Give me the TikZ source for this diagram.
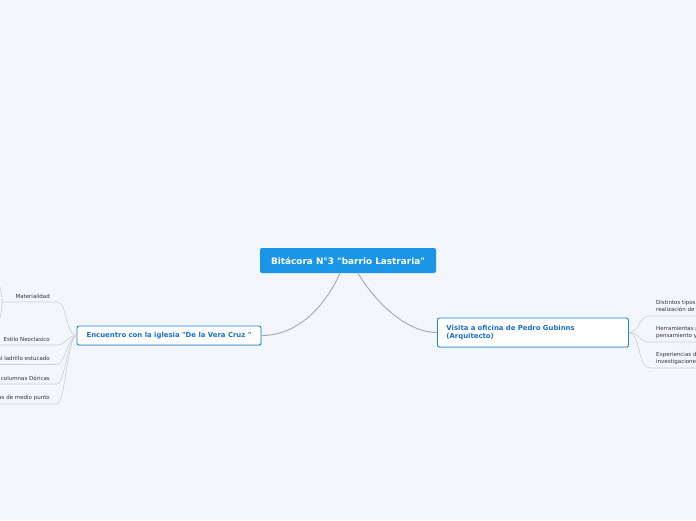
\documentclass[tikz,border=0pt]{standalone}
\usepackage{fontspec}
\setmainfont{DejaVu Sans}[Ligatures=TeXOff]
\usetikzlibrary{shadows}
\definecolor{bg}{HTML}{F3F6FD}
\definecolor{cblue}{HTML}{1B95E5}
\definecolor{tblue}{HTML}{1C86E0}
\definecolor{ttext}{HTML}{1A6FD0}
\definecolor{mgray}{HTML}{A4A6B2}
\definecolor{sgray}{HTML}{CDCFD8}
\definecolor{subtext}{HTML}{333333}
\tikzset{
  central/.style={fill=cblue, text=white, font=\bfseries\fontsize{8.9}{10}\selectfont,
    rounded corners=2pt, minimum width=176pt, minimum height=25pt, inner sep=0pt},
  topic/.style={draw=tblue, line width=0.9pt, fill=white, text=ttext,
    font=\bfseries\fontsize{6.9}{8.2}\selectfont, rounded corners=2pt,
    drop shadow={opacity=0.25, shadow xshift=0.6pt, shadow yshift=-1pt}},
  sublabel/.style={font=\fontsize{5.5}{7}\selectfont, text=subtext, inner sep=0pt, align=left},
  mainline/.style={draw=mgray, line width=0.9pt},
  subline/.style={draw=sgray, line width=0.6pt},
}
\begin{document}
\begin{tikzpicture}[x=1pt,y=-1pt]
\fill[bg] (0,0) rectangle (696,520);
\useasboundingbox (0,0) rectangle (696,520);
\clip (0,0) rectangle (696,520);

% main nodes
\node[central] (C) at (348,260.5) {Bitácora N°3 "barrio Lastraria"};
\node[topic, minimum width=184pt, minimum height=19pt, inner sep=0pt] (L) at (169,335.5)
  {Encuentro con la iglesia "De la Vera Cruz "};
\node[topic, anchor=west, text width=173pt, inner xsep=9pt, inner ysep=0pt, minimum height=29pt, align=left]
  (R) at (437,332.5) {Visita a oficina de Pedro Gubinns\\(Arquitecto)};

\draw[mainline] ([xshift=-8pt]C.south) .. controls (328,300) and (302,335.5) .. (L.east);
\draw[mainline] ([xshift=10pt]C.south) .. controls (374,300) and (405,332.5) .. (R.west);

% left sub topics
\node[sublabel, anchor=east] (s1) at (50,296) {Materialidad};
\node[sublabel, anchor=east] (s2) at (50,339) {Estilo Neoclasico};
\node[sublabel, anchor=east] (s3) at (50,358.5) {al ladrillo estucado};
\node[sublabel, anchor=east] (s4) at (50,378.5) {columnas Dóricas};
\node[sublabel, anchor=east] (s5) at (50,398) {as de medio punto};

\coordinate (e1) at (57,302);  \coordinate (b1) at (3,302);
\coordinate (e2) at (57,345);  \coordinate (b2) at (-2,345);
\coordinate (e3) at (57,364.5);\coordinate (b3) at (-2,364.5);
\coordinate (e4) at (57,384);  \coordinate (b4) at (-2,384);
\coordinate (e5) at (57,404);  \coordinate (b5) at (-2,404);

\draw[subline] (L.west) .. controls (66,335.5) and (67,302) .. (e1) -- (b1);
\draw[subline] (L.west) .. controls (67,335.5) and (66,345) .. (e2) -- (b2);
\draw[subline] (L.west) .. controls (68,335.5) and (65,364.5) .. (e3) -- (b3);
\draw[subline] (L.west) .. controls (68,335.5) and (65,384) .. (e4) -- (b4);
\draw[subline] (L.west) .. controls (68,335.5) and (65,404) .. (e5) -- (b5);

% children of Materialidad (off the left edge)
\coordinate (c1) at (-3,282);
\coordinate (c2) at (-3,322);
\draw[subline] (b1) .. controls (1,302) and (3,288) .. (c1);
\draw[subline] (b1) .. controls (1,302) and (3,316) .. (c2);

% right sub topics
\node[sublabel, anchor=north west] (r1) at (656,300) {Distintos tipos\\realización de};
\node[sublabel, anchor=north west] (r2) at (656,326) {Herramientas p\\pensamiento y};
\node[sublabel, anchor=north west] (r3) at (656,352) {Experiencias d\\investigaciones};

\coordinate (f1) at (650,316);  \coordinate (g1) at (700,316);
\coordinate (f2) at (650,342);  \coordinate (g2) at (700,342);
\coordinate (f3) at (650,368);  \coordinate (g3) at (700,368);

\draw[subline] (R.east) .. controls (640,332.5) and (638,316) .. (f1) -- (g1);
\draw[subline] (R.east) .. controls (640,332.5) and (638,342) .. (f2) -- (g2);
\draw[subline] (R.east) .. controls (640,332.5) and (638,368) .. (f3) -- (g3);
\end{tikzpicture}
\end{document}
